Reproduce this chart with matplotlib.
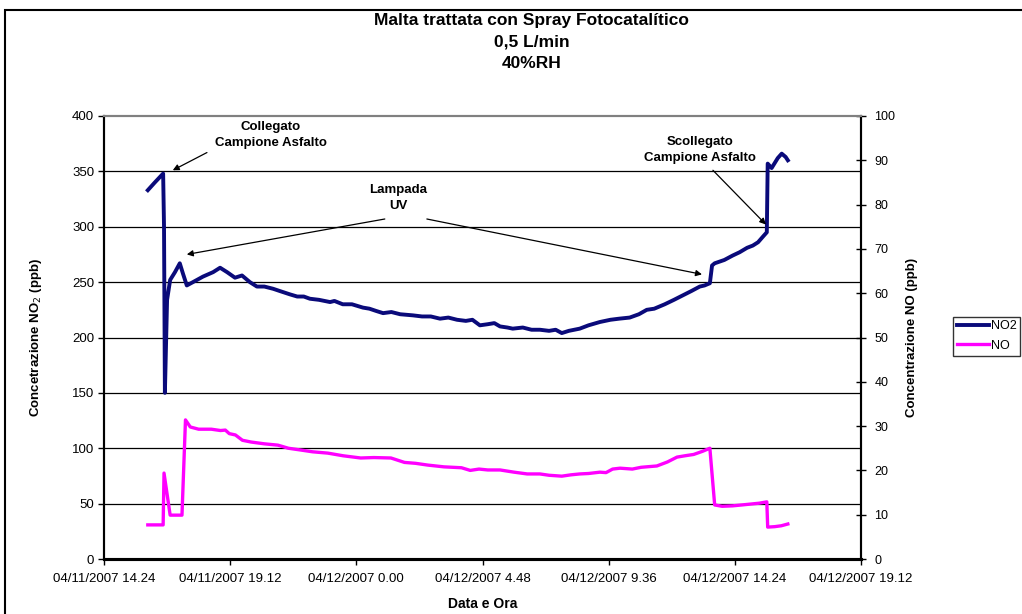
import matplotlib
matplotlib.use('Agg')
import matplotlib.pyplot as plt
from matplotlib.patches import Rectangle
import pandas as pd

plt.rcParams['font.family'] = ['Liberation Sans', 'DejaVu Sans']

# ---- data -------------------------------------------------------------
no2_time = ['2007-04-11 16:04', '2007-04-11 16:20', '2007-04-11 16:39', '2007-04-11 16:41',
            '2007-04-11 16:43', '2007-04-11 16:48', '2007-04-11 16:55', '2007-04-11 17:06',
            '2007-04-11 17:17', '2007-04-11 17:24', '2007-04-11 17:33', '2007-04-11 17:47',
            '2007-04-11 18:10', '2007-04-11 18:33', '2007-04-11 18:49', '2007-04-11 19:05',
            '2007-04-11 19:23', '2007-04-11 19:39', '2007-04-11 19:57', '2007-04-11 20:05',
            '2007-04-11 20:13', '2007-04-11 20:30', '2007-04-11 20:50', '2007-04-11 21:05',
            '2007-04-11 21:28', '2007-04-11 21:45', '2007-04-11 22:00', '2007-04-11 22:14',
            '2007-04-11 22:35', '2007-04-11 23:00', '2007-04-11 23:10', '2007-04-11 23:29',
            '2007-04-11 23:50', '2007-04-12 00:15', '2007-04-12 00:30', '2007-04-12 00:45',
            '2007-04-12 01:01', '2007-04-12 01:20', '2007-04-12 01:40', '2007-04-12 02:09',
            '2007-04-12 02:30', '2007-04-12 02:50', '2007-04-12 03:11', '2007-04-12 03:30',
            '2007-04-12 03:50', '2007-04-12 04:10', '2007-04-12 04:25', '2007-04-12 04:42',
            '2007-04-12 05:00', '2007-04-12 05:15', '2007-04-12 05:28', '2007-04-12 05:45',
            '2007-04-12 05:57', '2007-04-12 06:20', '2007-04-12 06:40', '2007-04-12 06:59',
            '2007-04-12 07:20', '2007-04-12 07:35', '2007-04-12 07:49', '2007-04-12 08:05',
            '2007-04-12 08:30', '2007-04-12 08:50', '2007-04-12 09:16', '2007-04-12 09:40',
            '2007-04-12 10:00', '2007-04-12 10:24', '2007-04-12 10:45', '2007-04-12 11:03',
            '2007-04-12 11:20', '2007-04-12 11:44', '2007-04-12 12:05', '2007-04-12 12:25',
            '2007-04-12 12:45', '2007-04-12 13:04', '2007-04-12 13:15', '2007-04-12 13:27',
            '2007-04-12 13:32', '2007-04-12 13:38', '2007-04-12 14:00', '2007-04-12 14:19',
            '2007-04-12 14:35', '2007-04-12 14:52', '2007-04-12 15:05', '2007-04-12 15:17',
            '2007-04-12 15:28', '2007-04-12 15:37', '2007-04-12 15:39', '2007-04-12 15:48',
            '2007-04-12 16:02', '2007-04-12 16:11', '2007-04-12 16:20', '2007-04-12 16:25']
no2_ppb = [333, 340, 348, 300,
           150, 234, 252, 259,
           267, 258, 247, 250,
           255, 259, 263, 259,
           254, 256, 250, 248,
           246, 246, 244, 242,
           239, 237, 237, 235,
           234, 232, 233, 230,
           230, 227, 226, 224,
           222, 223, 221, 220,
           219, 219, 217, 218,
           216, 215, 216, 211,
           212, 213, 210, 209,
           208, 209, 207, 207,
           206, 207, 204, 206,
           208, 211, 214, 216,
           217, 218, 221, 225,
           226, 230, 234, 238,
           242, 246, 247, 249,
           265, 267, 270, 274,
           277, 281, 283, 286,
           291, 295, 357, 353,
           362, 366, 363, 360]

no_time = ['2007-04-11 16:04', '2007-04-11 16:39', '2007-04-11 16:41', '2007-04-11 16:55',
           '2007-04-11 17:22', '2007-04-11 17:30', '2007-04-11 17:41', '2007-04-11 18:00',
           '2007-04-11 18:29', '2007-04-11 18:50', '2007-04-11 19:01', '2007-04-11 19:10',
           '2007-04-11 19:24', '2007-04-11 19:40', '2007-04-11 20:00', '2007-04-11 20:30',
           '2007-04-11 21:01', '2007-04-11 21:25', '2007-04-11 21:53', '2007-04-11 22:20',
           '2007-04-11 22:55', '2007-04-11 23:30', '2007-04-12 00:10', '2007-04-12 00:40',
           '2007-04-12 01:19', '2007-04-12 01:50', '2007-04-12 02:15', '2007-04-12 02:43',
           '2007-04-12 03:20', '2007-04-12 04:00', '2007-04-12 04:20', '2007-04-12 04:40',
           '2007-04-12 05:00', '2007-04-12 05:28', '2007-04-12 06:00', '2007-04-12 06:30',
           '2007-04-12 06:59', '2007-04-12 07:20', '2007-04-12 07:49', '2007-04-12 08:10',
           '2007-04-12 08:30', '2007-04-12 08:50', '2007-04-12 09:16', '2007-04-12 09:30',
           '2007-04-12 09:45', '2007-04-12 10:02', '2007-04-12 10:30', '2007-04-12 10:50',
           '2007-04-12 11:26', '2007-04-12 11:50', '2007-04-12 12:12', '2007-04-12 12:30',
           '2007-04-12 12:50', '2007-04-12 13:10', '2007-04-12 13:27', '2007-04-12 13:38',
           '2007-04-12 13:55', '2007-04-12 14:19', '2007-04-12 14:40', '2007-04-12 15:00',
           '2007-04-12 15:20', '2007-04-12 15:37', '2007-04-12 15:39', '2007-04-12 15:55',
           '2007-04-12 16:10', '2007-04-12 16:25']
no_ppb = [7.7, 7.7, 19.4, 9.9,
          9.9, 31.4, 29.8, 29.3,
          29.3, 29.0, 29.1, 28.3,
          28.0, 26.8, 26.4, 26.0,
          25.7, 25.0, 24.6, 24.2,
          23.9, 23.3, 22.8, 22.9,
          22.8, 21.8, 21.6, 21.2,
          20.8, 20.6, 20.0, 20.3,
          20.1, 20.1, 19.6, 19.2,
          19.2, 18.9, 18.7, 19.0,
          19.2, 19.3, 19.6, 19.5,
          20.3, 20.5, 20.3, 20.7,
          21.0, 21.9, 23.0, 23.3,
          23.6, 24.3, 25.0, 12.2,
          11.9, 12.0, 12.2, 12.4,
          12.6, 12.9, 7.2, 7.3,
          7.5, 7.9]

x_ticks = ['2007-04-11 14:24', '2007-04-11 19:12', '2007-04-12 00:00', '2007-04-12 04:48',
           '2007-04-12 09:36', '2007-04-12 14:24', '2007-04-12 19:12']
x_tick_labels = ['04/11/2007 14.24', '04/11/2007 19.12', '04/12/2007 0.00', '04/12/2007 4.48',
                 '04/12/2007 9.36', '04/12/2007 14.24', '04/12/2007 19.12']

t_no2 = pd.to_datetime(no2_time)
t_no = pd.to_datetime(no_time)
t_ticks = pd.to_datetime(x_ticks)

NAVY = '#0a0a7a'
MAGENTA = '#ff00ff'

fig = plt.figure(figsize=(10.22, 6.14), dpi=100)
ax = fig.add_axes([104 / 1022, 55 / 614, 757 / 1022, 443 / 614])
ax2 = ax.twinx()

# horizontal grid
for v in range(50, 400, 50):
    ax.axhline(v, color='black', lw=0.9, zorder=1)

ax.plot(t_no2, no2_ppb, color=NAVY, lw=2.8, solid_joinstyle='round', zorder=3, label='NO2')
ax2.plot(t_no, no_ppb, color=MAGENTA, lw=2.4, solid_joinstyle='round', zorder=3, label='NO')

ax.set_xlim(t_ticks[0], t_ticks[-1])
ax.set_ylim(0, 400)
ax2.set_ylim(0, 100)

ax.set_xticks(t_ticks)
ax.set_xticklabels(x_tick_labels, fontsize=9.5)
ax.set_yticks(range(0, 401, 50))
ax.set_yticklabels([str(v) for v in range(0, 401, 50)], fontsize=9.5)
ax2.set_yticks(range(0, 101, 10))
ax2.tick_params(axis='y', labelsize=9, direction='inout', length=7, width=1, pad=6)
ax.tick_params(axis='y', direction='out', length=4, width=1, pad=3)
ax.tick_params(axis='x', direction='out', length=4, width=1, pad=6)

for a in (ax, ax2):
    a.spines['top'].set_color('#808080')
    a.spines['top'].set_linewidth(1.5)
    a.spines['left'].set_linewidth(1.5)
    a.spines['right'].set_linewidth(1.5)
    a.spines['bottom'].set_linewidth(2.2)

ax.set_ylabel('Concetrazione NO$_2$ (ppb)', fontsize=9.5, fontweight='bold', labelpad=20)
ax2.set_ylabel('Concentrazione NO (ppb)', fontsize=9.5, fontweight='bold', labelpad=8)
ax.set_xlabel('Data e Ora', fontsize=10, fontweight='bold', labelpad=9)

fig.text(0.52, 1 - 13 / 614, 'Malta trattata con Spray Fotocatalítico\n0,5 L/min\n40%RH',
         ha='center', va='top', fontsize=12.5, fontweight='bold', linespacing=1.55)

# annotations
ann = dict(fontsize=9.5, fontweight='bold', ha='center', va='center', linespacing=1.45)
arrow = dict(arrowstyle='-|>', color='black', lw=0.9, mutation_scale=9, shrinkA=0, shrinkB=0)
ts = pd.Timestamp
ax.text(ts('2007-04-11 20:45'), 383, 'Collegato\nCampione Asfalto', **ann)
ax.annotate('', xy=(ts('2007-04-11 17:01'), 351), xytext=(ts('2007-04-11 18:19'), 367),
            arrowprops=arrow)
ax.text(ts('2007-04-12 01:35'), 326, 'Lampada\nUV', **ann)
ax.annotate('', xy=(ts('2007-04-11 17:33'), 275), xytext=(ts('2007-04-12 01:05'), 307),
            arrowprops=arrow)
ax.annotate('', xy=(ts('2007-04-12 13:09'), 257), xytext=(ts('2007-04-12 02:41'), 307),
            arrowprops=arrow)
ax.text(ts('2007-04-12 13:04'), 369, 'Scollegato\nCampione Asfalto', **ann)
ax.annotate('', xy=(ts('2007-04-12 15:35'), 302), xytext=(ts('2007-04-12 13:34'), 351),
            arrowprops=arrow)

h1, l1 = ax.get_legend_handles_labels()
h2, l2 = ax2.get_legend_handles_labels()
leg = fig.legend(h1 + h2, l1 + l2, loc='center left', bbox_to_anchor=(953 / 1022, 1 - 336 / 614),
                 frameon=True, fancybox=False, edgecolor='black', fontsize=9,
                 handlelength=2.6, handletextpad=0.1, borderpad=0.3, labelspacing=0.6,
                 borderaxespad=0)
leg.get_frame().set_linewidth(1.0)

# outer chart frame
fig.patches.append(Rectangle((5 / 1022, -0.05), 1.2, 1.05 - 10 / 614, transform=fig.transFigure,
                             fill=False, edgecolor='black', lw=1.5))

fig.savefig('out.png', dpi=100)
